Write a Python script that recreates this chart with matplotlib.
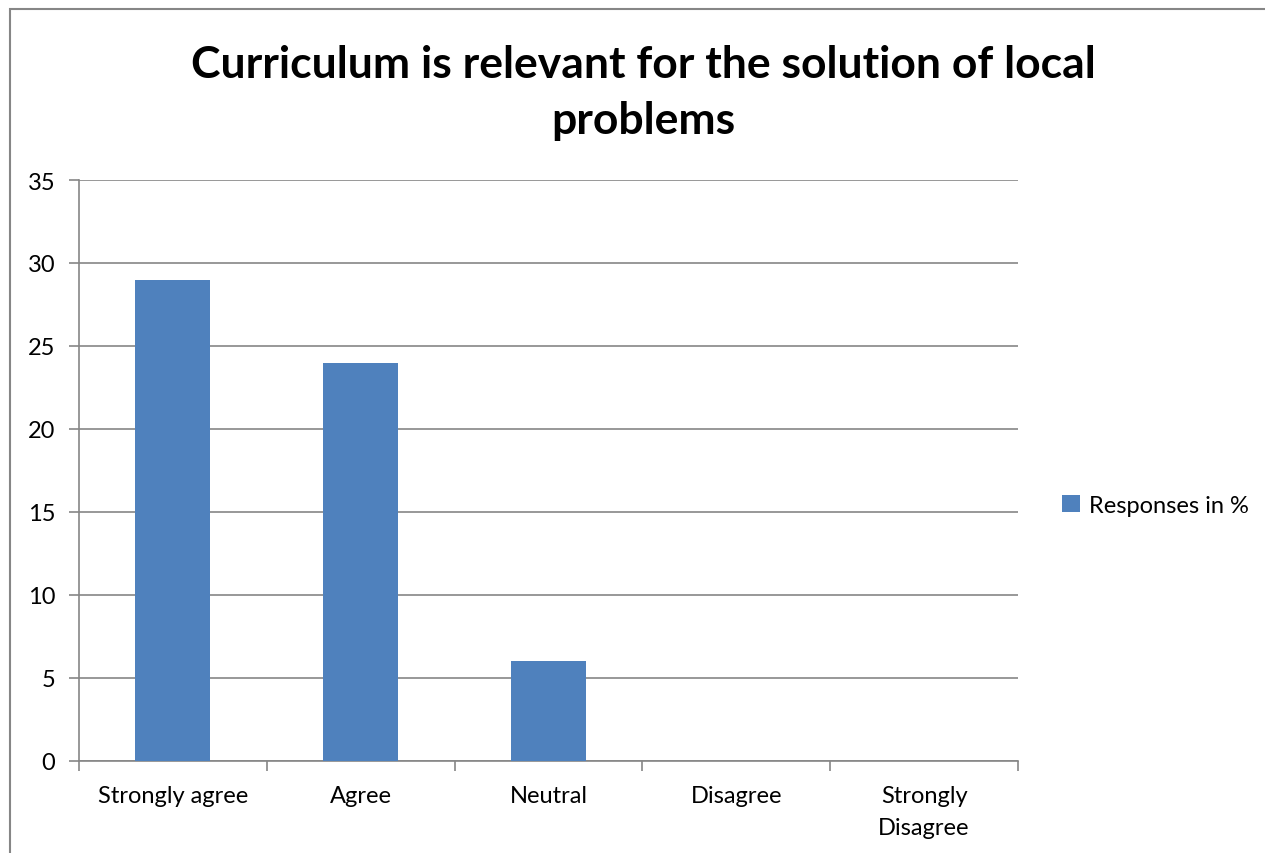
"""Bar chart: curriculum relevance for local problems"""

import matplotlib.pyplot as plt
from matplotlib.patches import Rectangle

plt.rcParams['font.family'] = ['Lato', 'DejaVu Sans']

# Data
categories = ['Strongly agree', 'Agree', 'Neutral', 'Disagree', 'Strongly\nDisagree']
responses = [29, 24, 6, 0, 0]
yticks = [0, 5, 10, 15, 20, 25, 30, 35]

grey = '#868686'
blue = '#4F81BD'

fig = plt.figure(figsize=(12.65, 8.54), dpi=100)
ax = fig.add_axes([79 / 1265, 1 - 762 / 854, (1018 - 79) / 1265, (762 - 181) / 854])

ax.bar(range(len(categories)), responses, width=0.4, color=blue,
       label='Responses in %', zorder=3)

ax.set_xlim(-0.5, len(categories) - 0.5)
ax.set_ylim(0, 35)
ax.set_yticks(yticks)
ax.yaxis.grid(True, color=grey, linewidth=1.2, zorder=0)

# category labels between boundary ticks
ax.set_xticks([i - 0.5 for i in range(len(categories) + 1)])
ax.set_xticklabels([])
ax.set_xticks(range(len(categories)), minor=True)
ax.set_xticklabels(categories, minor=True, fontsize=17, linespacing=1.65)
ax.tick_params(axis='x', which='minor', length=0, pad=17)
ax.tick_params(axis='x', which='major', length=7, color=grey, width=1.2)
ax.tick_params(axis='y', length=7, color=grey, width=1.2, labelsize=17, pad=10)

for side in ['top', 'right']:
    ax.spines[side].set_visible(False)
for side in ['left', 'bottom']:
    ax.spines[side].set_color(grey)
    ax.spines[side].set_linewidth(1.2)

fig.text(643 / 1265, 1 - 93 / 854,
         'Curriculum is relevant for the solution of local\nproblems',
         ha='center', va='center', fontsize=32, fontweight='bold',
         linespacing=1.5)

ax.legend(loc='center left', bbox_to_anchor=((1062 - 79) / 939, 0.44),
          frameon=False, borderpad=0, borderaxespad=0,
          fontsize=17, handlelength=0.75, handleheight=0.75, handletextpad=0.4)

# outer chart border
fig.patches.append(Rectangle((10 / 1265, -0.1), 1.2, 1 - 10 / 854 + 0.1,
                             transform=fig.transFigure, fill=False,
                             edgecolor=grey, linewidth=1.5))

plt.savefig('out.png', dpi=100)
